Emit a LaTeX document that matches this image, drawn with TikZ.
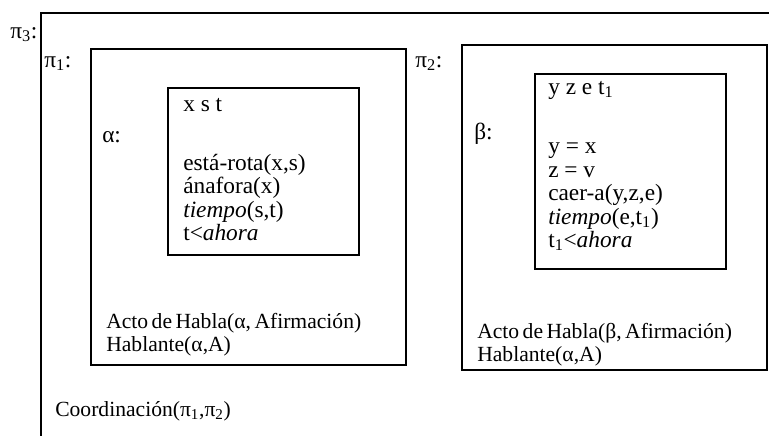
\documentclass[tikz,border=0pt]{standalone}
\usepackage{fontspec}
\setmainfont{Liberation Serif}
\newcommand{\tightspace}{\spaceskip=0.16em\relax}
\begin{document}
\begin{tikzpicture}[x=0.75pt,y=-0.75pt,
  frame/.style={draw,line width=1.4pt},
  lbl/.style={anchor=base west,inner sep=0pt,font=\fontsize{17.5}{18}\selectfont},
  lbs/.style={anchor=base west,inner sep=0pt,font={\fontsize{16.2}{17}\selectfont\tightspace}}]
\useasboundingbox (0,0) rectangle (769,436);
% boxes
\draw[frame] (769,13) -- (41,13) -- (41,436);
\draw[frame] (91,49) rectangle (406,365);
\draw[frame] (168,88) rectangle (359,255);
\draw[frame] (462,45) rectangle (767,370);
\draw[frame] (535,74) rectangle (726,269);
% labels
\node[lbl] (p3) at (10,38) {π\textsubscript{3}:};
\node[lbl] (p1) at (44,67) {π\textsubscript{1}:};
\node[lbl] (p2) at (415,67) {π\textsubscript{2}:};
\node[lbl] (al) at (102,142) {α:};
\node[lbl] (be) at (474,139) {β:};
% alpha box
\node[lbl] (a0) at (183,111) {x s t};
\node[lbl] (a1) at (183,170) {está-rota(x,s)};
\node[lbl] (a2) at (183,193.5) {ánafora(x)};
\node[lbl] (a3) at (183,217) {\textit{tiempo}(s,t)};
\node[lbl] (a4) at (183,240.5) {t<\textit{ahora}};
\node[lbs] (a5) at (106,328) {Acto de Habla(α, Afirmación)};
\node[lbs] (a6) at (106,351) {Hablante(α,A)};
% beta box
\node[lbl] (b0) at (548,94) {y z e t\textsubscript{1}};
\node[lbl] (b1) at (548,153.5) {y = x};
\node[lbl] (b2) at (548,177) {z = v};
\node[lbl] (b3) at (548,200.5) {caer-a(y,z,e)};
\node[lbl] (b4) at (548,224) {\textit{tiempo}(e,t\textsubscript{1})};
\node[lbl] (b5) at (548,247.5) {t\textsubscript{1}<\textit{ahora}};
\node[lbs] (b6) at (477,338) {Acto de Habla(β, Afirmación)};
\node[lbs] (b7) at (477,361) {Hablante(α,A)};
% coordination
\node[lbs] (co) at (55,416) {Coordinación(π\textsubscript{1},π\textsubscript{2})};
\end{tikzpicture}
\end{document}
